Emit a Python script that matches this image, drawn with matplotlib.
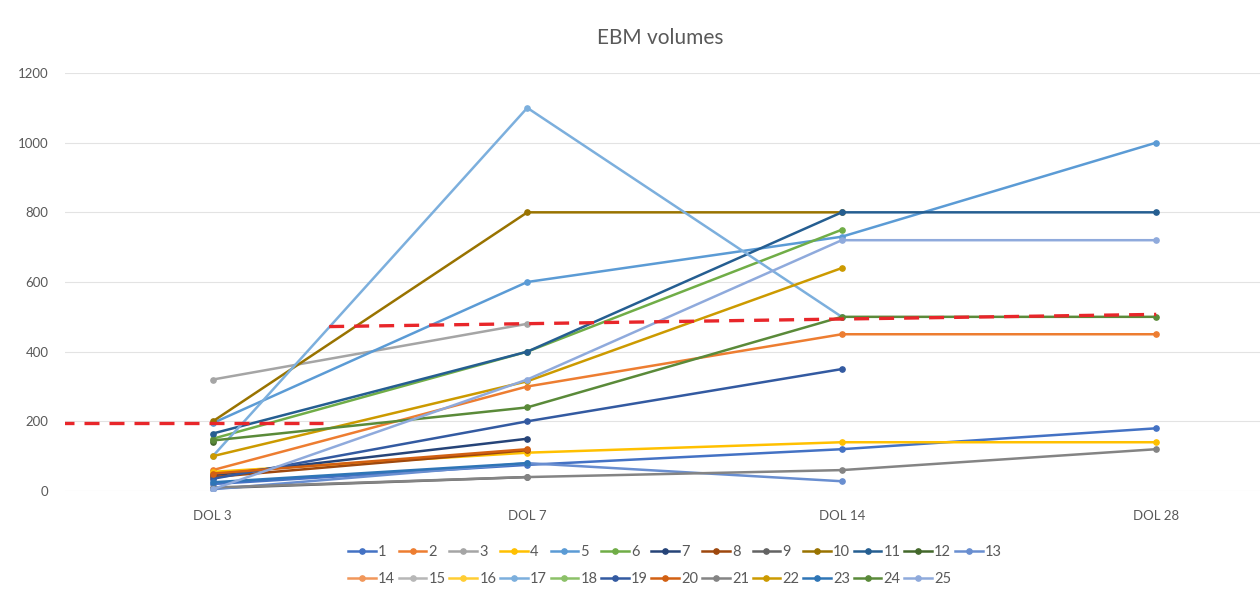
import numpy as np
import matplotlib
matplotlib.use("Agg")
import matplotlib.pyplot as plt
from matplotlib import font_manager

nan = np.nan

# pick a narrow sans if available, else Lato
installed = {f.name for f in font_manager.fontManager.ttflist}
base_font = "Liberation Sans Narrow" if "Liberation Sans Narrow" in installed else "Lato"
plt.rcParams["font.family"] = [base_font, "DejaVu Sans"]

days = ["DOL 3", "DOL 7", "DOL 14", "DOL 28"]

# EBM volume per subject at each day of life (nan = no measurement)
s1 = [20, 75, 120, 180]
s2 = [60, 300, 450, 450]
s3 = [320, 480, nan, nan]
s4 = [55, 110, 140, 140]
s5 = [195, 600, 730, 1000]
s6 = [150, 400, 750, nan]
s7 = [45, 150, nan, nan]
s8 = [40, 117, nan, nan]
s9 = [8, 40, nan, nan]
s10 = [200, 800, 800, nan]
s11 = [165, 400, 800, 800]
s12 = [140, nan, nan, nan]
s13 = [5, 80, 28, nan]
s14 = [nan, nan, nan, nan]
s15 = [nan, nan, nan, nan]
s16 = [nan, nan, nan, nan]
s17 = [100, 1100, 500, nan]
s18 = [nan, nan, nan, nan]
s19 = [35, 200, 350, nan]
s20 = [50, 120, nan, nan]
s21 = [10, 40, 60, 120]
s22 = [100, 315, 640, nan]
s23 = [25, 80, nan, nan]
s24 = [145, 240, 500, 500]
s25 = [5, 320, 720, 720]

series = [s1, s2, s3, s4, s5, s6, s7, s8, s9, s10, s11, s12, s13,
          s14, s15, s16, s17, s18, s19, s20, s21, s22, s23, s24, s25]
labels = [str(i + 1) for i in range(len(series))]

# office-style series colours
colors = ["#4472C4", "#ED7D31", "#A5A5A5", "#FFC000", "#5B9BD5", "#70AD47",
          "#264478", "#9E480E", "#636363", "#997300", "#255E91", "#43682B",
          "#698ED0", "#F1975A", "#B7B7B7", "#FFCD33", "#7CAFDD", "#8CC168",
          "#335AA1", "#D26012", "#848484", "#CC9A00", "#2E75B6", "#5A8A39",
          "#8FAADC"]

# threshold guides (x in category units)
thr_low_x = [-0.49, 0.35]
thr_low_y = [195, 195]
thr_high_x = [0.37, 3.0]
thr_high_y = [472, 507]

fig = plt.figure(figsize=(12.6, 5.94), dpi=100)
ax = fig.add_axes([65 / 1260, 1 - 491 / 594, 1195 / 1260, 418 / 594])

x = np.arange(len(days))
handles = []
for vals, lab, col in zip(series, labels, colors):
    y = np.array(vals, dtype=float)
    h, = ax.plot(x, y, "-o", color=col, lw=1.8, ms=3.8, label=lab)
    handles.append(h)

ax.plot(thr_low_x, thr_low_y, color="#E8262A", lw=2.4, ls=(0, (4.5, 3)))
ax.plot(thr_high_x, thr_high_y, color="#E8262A", lw=2.4, ls=(0, (4.5, 3)))

ax.set_xlim(-0.47, 3.33)
ax.set_ylim(0, 1200)
ax.set_yticks(range(0, 1201, 200))
ax.set_xticks(x)
ax.set_xticklabels(days)
ax.grid(axis="y", color="#E3E3E3", lw=0.8)
ax.set_axisbelow(True)
for sp in ax.spines.values():
    sp.set_visible(False)
ax.tick_params(length=0, colors="#595959", labelsize=9.5)
ax.tick_params(axis="x", pad=14)
ax.tick_params(axis="y", pad=12)

fig.text(660 / 1260, 1 - 38 / 594, "EBM volumes", ha="center", va="center",
         fontsize=15, color="#595959")

# reorder so the legend fills row by row
order = []
for c in range(13):
    order.append(c)
    if c + 13 < len(handles):
        order.append(c + 13)
fig.legend([handles[i] for i in order], [labels[i] for i in order],
           loc="upper center", bbox_to_anchor=(675 / 1260, 1 - 532 / 594),
           ncol=13, frameon=False, fontsize=10.5, handlelength=1.9,
           handletextpad=0.15, columnspacing=0.25, labelspacing=0.9,
           labelcolor="#595959")

fig.savefig("out.png", dpi=100)
